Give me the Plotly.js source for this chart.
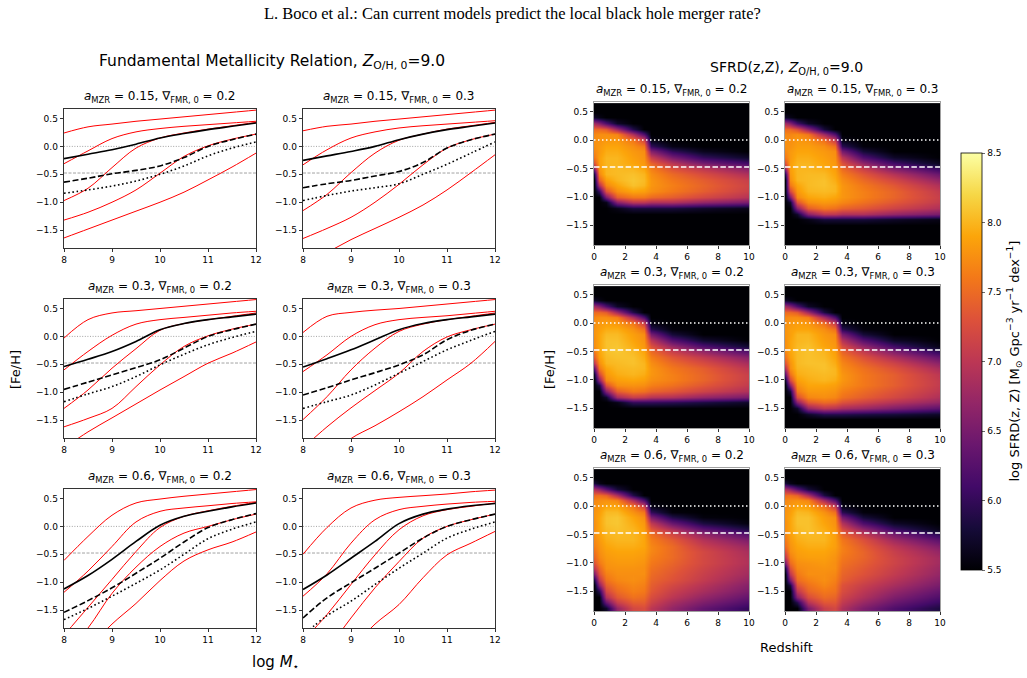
<!DOCTYPE html>
<html><head><meta charset="utf-8">
<script src="https://cdn.plot.ly/plotly-3.0.1.min.js"></script>
<style>html,body{margin:0;padding:0;background:#fff}#chart{width:1027px;height:678px}</style>
</head><body><div id="chart"></div><script>
// ---------------- DATA ----------------
const logMass = [8, 8.5, 9, 9.5, 10, 10.5, 11, 11.5, 12];
const aMZR = ['0.15', '0.15', '0.3', '0.3', '0.6', '0.6'];
const gradFMR = ['0.2', '0.3', '0.2', '0.3', '0.2', '0.3'];
const fehSolar = 0.0;
const fehThird = -0.477;

// red FMR curves (5 per panel), black solid / dashed / dotted
const red_a015_g02 = [
  [0.24, 0.35, 0.40, 0.45, 0.49, 0.53, 0.57, 0.61, 0.65],
  [-0.31, -0.08, 0.14, 0.26, 0.32, 0.36, 0.39, 0.42, 0.45],
  [-0.97, -0.75, -0.38, -0.03, 0.15, 0.24, 0.31, 0.37, 0.43],
  [-1.32, -1.18, -1.0, -0.78, -0.48, -0.18, 0.01, 0.13, 0.22],
  [-1.64, -1.48, -1.32, -1.16, -1.0, -0.82, -0.6, -0.37, -0.12]];
const solid_a015_g02 = [-0.22, -0.14, -0.06, 0.04, 0.15, 0.23, 0.30, 0.36, 0.42];
const dashed_a015_g02 = [-0.64, -0.57, -0.49, -0.43, -0.35, -0.2, 0.0, 0.12, 0.22];
const dotted_a015_g02 = [-0.84, -0.78, -0.71, -0.62, -0.50, -0.35, -0.17, -0.03, 0.08];

const red_a015_g03 = [
  [0.28, 0.36, 0.40, 0.45, 0.49, 0.53, 0.57, 0.61, 0.65],
  [-0.33, -0.06, 0.15, 0.26, 0.33, 0.37, 0.40, 0.43, 0.46],
  [-1.15, -0.86, -0.47, -0.12, 0.11, 0.22, 0.31, 0.37, 0.43],
  [-1.65, -1.47, -1.27, -1.0, -0.68, -0.33, -0.03, 0.12, 0.22],
  [-2.1, -1.9, -1.67, -1.47, -1.27, -1.05, -0.78, -0.47, -0.15]];
const solid_a015_g03 = [-0.25, -0.17, -0.09, 0.0, 0.12, 0.22, 0.30, 0.36, 0.42];
const dashed_a015_g03 = [-0.74, -0.67, -0.61, -0.53, -0.45, -0.29, -0.03, 0.12, 0.22];
const dotted_a015_g03 = [-0.97, -0.88, -0.80, -0.74, -0.67, -0.5, -0.32, -0.12, 0.08];

const red_a03_g02 = [
  [-0.03, 0.30, 0.42, 0.46, 0.5, 0.54, 0.58, 0.62, 0.66],
  [-0.60, -0.27, 0.02, 0.22, 0.30, 0.34, 0.38, 0.42, 0.45],
  [-1.29, -0.96, -0.57, -0.22, 0.11, 0.23, 0.30, 0.36, 0.42],
  [-1.62, -1.47, -1.29, -0.9, -0.51, -0.18, 0.01, 0.13, 0.22],
  [-2.0, -1.71, -1.46, -1.21, -0.96, -0.72, -0.48, -0.30, -0.10]];
const solid_a03_g02 = [-0.54, -0.41, -0.27, -0.09, 0.12, 0.23, 0.30, 0.35, 0.40];
const dashed_a03_g02 = [-0.95, -0.82, -0.69, -0.56, -0.42, -0.21, 0.0, 0.12, 0.22];
const dotted_a03_g02 = [-1.17, -1.03, -0.90, -0.72, -0.51, -0.32, -0.15, -0.02, 0.09];

const red_a03_g03 = [
  [0.07, 0.36, 0.43, 0.47, 0.5, 0.54, 0.58, 0.62, 0.66],
  [-0.63, -0.33, 0.0, 0.21, 0.30, 0.34, 0.37, 0.41, 0.45],
  [-1.49, -1.08, -0.60, -0.21, 0.09, 0.22, 0.30, 0.36, 0.42],
  [-2.0, -1.62, -1.28, -0.97, -0.66, -0.27, -0.01, 0.12, 0.22],
  [-2.5, -2.2, -1.83, -1.6, -1.35, -1.08, -0.78, -0.48, -0.09]];
const solid_a03_g03 = [-0.55, -0.40, -0.24, -0.06, 0.12, 0.23, 0.30, 0.35, 0.40];
const dashed_a03_g03 = [-1.05, -0.92, -0.78, -0.65, -0.51, -0.33, -0.06, 0.11, 0.22];
const dotted_a03_g03 = [-1.29, -1.17, -1.05, -0.87, -0.66, -0.45, -0.24, -0.07, 0.09];

const red_a06_g02 = [
  [-0.61, -0.18, 0.20, 0.42, 0.49, 0.54, 0.58, 0.62, 0.66],
  [-1.18, -0.80, -0.36, 0.08, 0.27, 0.33, 0.37, 0.41, 0.44],
  [-1.95, -1.45, -0.95, -0.45, -0.02, 0.18, 0.28, 0.36, 0.43],
  [-2.3, -1.82, -1.2, -0.73, -0.36, -0.12, 0.0, 0.12, 0.22],
  [-2.8, -2.2, -1.75, -1.38, -0.97, -0.62, -0.42, -0.28, -0.10]];
const solid_a06_g02 = [-1.12, -0.88, -0.59, -0.27, 0.02, 0.18, 0.27, 0.35, 0.42];
const dashed_a06_g02 = [-1.54, -1.33, -1.10, -0.84, -0.57, -0.28, -0.02, 0.12, 0.23];
const dotted_a06_g02 = [-1.67, -1.47, -1.25, -1.02, -0.78, -0.5, -0.22, -0.05, 0.08];

const red_a06_g03 = [
  [-0.5, -0.02, 0.33, 0.47, 0.52, 0.55, 0.58, 0.62, 0.65],
  [-1.25, -0.85, -0.30, 0.12, 0.30, 0.36, 0.40, 0.43, 0.45],
  [-2.05, -1.58, -1.04, -0.51, -0.06, 0.19, 0.30, 0.36, 0.42],
  [-2.6, -2.2, -1.64, -1.10, -0.63, -0.21, 0.0, 0.12, 0.22],
  [-3.2, -2.7, -2.2, -1.75, -1.4, -0.92, -0.51, -0.30, -0.09]];
const solid_a06_g03 = [-1.13, -0.87, -0.57, -0.27, 0.05, 0.22, 0.31, 0.37, 0.41];
const dashed_a06_g03 = [-1.64, -1.28, -1.01, -0.75, -0.48, -0.21, 0.0, 0.12, 0.22];
const dotted_a06_g03 = [-1.95, -1.6, -1.34, -1.04, -0.75, -0.48, -0.21, -0.05, 0.08];

// SFRD(z, Z) maps: one column (25 [Fe/H] values, -1.8 .. 0.6) per redshift
const redshift = [0, 0.3, 0.8, 1.5, 2.5, 3.2, 3.7, 5, 7, 10];
const feh = [-1.8,-1.7,-1.6,-1.5,-1.4,-1.3,-1.2,-1.1,-1.0,-0.9,-0.8,-0.7,-0.6,-0.5,-0.4,-0.3,-0.2,-0.1,0.0,0.1,0.2,0.3,0.4,0.5,0.6];

const sfrd_a015_g02 = [
  [5.5,5.5,5.5,5.5,5.5,5.5,5.5,5.5,5.5,5.5,5.5,5.5,5.8,6.6,7.3,7.6,7.7,7.75,7.75,7.7,7.5,6.8,5.7,5.5,5.5],
  [5.5,5.5,5.5,5.5,5.5,5.5,5.5,5.5,5.5,6.0,6.9,7.4,7.7,7.82,7.86,7.86,7.82,7.82,7.78,7.75,7.5,6.6,5.6,5.5,5.5],
  [5.5,5.5,5.5,5.5,5.5,5.5,5.5,5.6,6.5,7.3,7.7,7.86,8.0,8.0,8.0,8.0,7.95,7.9,7.82,7.75,7.4,6.2,5.5,5.5,5.5],
  [5.5,5.5,5.5,5.5,5.5,5.5,5.6,6.6,7.4,7.75,7.9,8.0,8.03,8.03,8.0,8.0,7.95,7.9,7.82,7.7,6.8,5.7,5.5,5.5,5.5],
  [5.5,5.5,5.5,5.5,5.5,5.5,5.8,7.0,7.6,7.9,8.07,8.1,8.07,8.0,7.9,7.86,7.82,7.75,7.6,6.9,5.9,5.5,5.5,5.5,5.5],
  [5.5,5.5,5.5,5.5,5.5,5.5,5.8,7.0,7.6,7.86,8.0,8.03,8.0,7.9,7.82,7.78,7.75,7.6,7.2,6.2,5.5,5.5,5.5,5.5,5.5],
  [5.5,5.5,5.5,5.5,5.5,5.5,5.8,6.9,7.5,7.75,7.8,7.8,7.75,7.65,7.45,7.1,6.6,6.0,5.6,5.5,5.5,5.5,5.5,5.5,5.5],
  [5.5,5.5,5.5,5.5,5.5,5.5,5.8,6.9,7.4,7.6,7.65,7.6,7.5,7.3,7.0,6.5,6.0,5.6,5.5,5.5,5.5,5.5,5.5,5.5,5.5],
  [5.5,5.5,5.5,5.5,5.5,5.5,5.7,6.7,7.2,7.4,7.45,7.4,7.25,7.0,6.5,6.0,5.65,5.5,5.5,5.5,5.5,5.5,5.5,5.5,5.5],
  [5.5,5.5,5.5,5.5,5.5,5.5,5.6,6.5,6.95,7.1,7.15,7.1,6.9,6.6,6.1,5.7,5.5,5.5,5.5,5.5,5.5,5.5,5.5,5.5,5.5]];

const sfrd_a015_g03 = [
  [5.5,5.5,5.5,5.5,5.5,5.5,5.5,5.5,5.5,5.5,5.5,5.5,5.9,6.7,7.3,7.6,7.7,7.75,7.75,7.7,7.5,6.8,5.7,5.5,5.5],
  [5.5,5.5,5.5,5.5,5.5,5.5,5.5,5.7,6.5,7.2,7.6,7.75,7.82,7.86,7.86,7.82,7.82,7.78,7.75,7.7,7.5,6.6,5.6,5.5,5.5],
  [5.5,5.5,5.5,5.5,5.5,5.7,6.6,7.3,7.7,7.82,7.9,8.0,8.0,8.0,8.0,7.95,7.9,7.86,7.82,7.75,7.3,6.1,5.5,5.5,5.5],
  [5.5,5.5,5.5,5.5,5.6,6.6,7.4,7.75,7.9,8.0,8.03,8.03,8.03,8.0,8.0,7.95,7.9,7.86,7.78,7.6,6.7,5.7,5.5,5.5,5.5],
  [5.5,5.5,5.5,5.5,5.8,7.0,7.6,7.82,7.95,8.03,8.07,8.07,8.03,7.95,7.9,7.86,7.82,7.75,7.55,6.8,5.8,5.5,5.5,5.5,5.5],
  [5.5,5.5,5.5,5.5,5.8,7.0,7.55,7.78,7.9,8.0,8.0,7.95,7.9,7.86,7.82,7.78,7.75,7.55,7.1,6.2,5.5,5.5,5.5,5.5,5.5],
  [5.5,5.5,5.5,5.5,5.8,6.9,7.45,7.7,7.8,7.8,7.8,7.75,7.65,7.5,7.3,7.0,6.5,5.95,5.6,5.5,5.5,5.5,5.5,5.5,5.5],
  [5.5,5.5,5.5,5.5,5.8,6.9,7.35,7.55,7.65,7.65,7.6,7.5,7.35,7.1,6.7,6.2,5.8,5.55,5.5,5.5,5.5,5.5,5.5,5.5,5.5],
  [5.5,5.5,5.5,5.5,5.7,6.7,7.15,7.35,7.45,7.45,7.35,7.2,6.95,6.55,6.1,5.7,5.5,5.5,5.5,5.5,5.5,5.5,5.5,5.5,5.5],
  [5.5,5.5,5.5,5.5,5.6,6.5,6.9,7.05,7.1,7.05,6.9,6.7,6.4,6.0,5.65,5.5,5.5,5.5,5.5,5.5,5.5,5.5,5.5,5.5,5.5]];

const sfrd_a03_g02 = [
  [5.5,5.5,5.5,5.5,5.5,5.5,5.5,5.5,5.5,5.7,6.3,7.0,7.4,7.6,7.75,7.75,7.78,7.78,7.75,7.7,7.5,6.8,5.7,5.5,5.5],
  [5.5,5.5,5.5,5.5,5.5,5.5,5.5,5.8,6.6,7.2,7.6,7.75,7.86,7.9,7.9,7.9,7.9,7.86,7.82,7.75,7.5,6.6,5.6,5.5,5.5],
  [5.5,5.5,5.5,5.5,5.5,5.7,6.6,7.3,7.7,7.82,7.9,8.0,8.03,8.07,8.07,8.07,8.03,7.95,7.86,7.75,7.4,6.2,5.5,5.5,5.5],
  [5.5,5.5,5.5,5.5,5.6,6.8,7.4,7.75,7.86,7.95,8.0,8.03,8.07,8.1,8.1,8.07,8.03,7.95,7.82,7.65,6.8,5.7,5.5,5.5,5.5],
  [5.5,5.5,5.5,5.5,6.0,7.1,7.6,7.78,7.9,8.0,8.03,8.07,8.07,8.03,7.95,7.9,7.86,7.78,7.6,6.9,5.9,5.5,5.5,5.5,5.5],
  [5.5,5.5,5.5,5.5,6.0,7.05,7.55,7.75,7.86,7.95,8.0,8.0,7.95,7.9,7.82,7.78,7.75,7.55,7.15,6.2,5.5,5.5,5.5,5.5,5.5],
  [5.5,5.5,5.5,5.5,6.0,6.95,7.45,7.65,7.75,7.8,7.8,7.75,7.65,7.5,7.3,7.0,6.5,5.95,5.6,5.5,5.5,5.5,5.5,5.5,5.5],
  [5.5,5.5,5.5,5.5,5.95,6.9,7.35,7.55,7.65,7.65,7.6,7.5,7.35,7.1,6.75,6.25,5.8,5.55,5.5,5.5,5.5,5.5,5.5,5.5,5.5],
  [5.5,5.5,5.5,5.5,5.85,6.7,7.15,7.35,7.45,7.45,7.4,7.25,7.05,6.7,6.2,5.75,5.5,5.5,5.5,5.5,5.5,5.5,5.5,5.5,5.5],
  [5.5,5.5,5.5,5.5,5.7,6.5,6.9,7.05,7.1,7.1,7.0,6.85,6.6,6.2,5.75,5.5,5.5,5.5,5.5,5.5,5.5,5.5,5.5,5.5,5.5]];

const sfrd_a03_g03 = [
  [5.5,5.5,5.5,5.5,5.5,5.5,5.5,5.5,5.7,6.3,6.9,7.3,7.55,7.7,7.75,7.75,7.78,7.78,7.75,7.7,7.5,6.8,5.7,5.5,5.5],
  [5.5,5.5,5.5,5.5,5.5,5.5,5.8,6.6,7.2,7.55,7.75,7.78,7.86,7.9,7.9,7.9,7.86,7.86,7.82,7.75,7.5,6.6,5.6,5.5,5.5],
  [5.5,5.5,5.5,5.7,6.6,7.25,7.6,7.75,7.86,7.95,8.0,8.03,8.03,8.03,8.03,8.0,8.0,7.9,7.86,7.75,7.4,6.2,5.5,5.5,5.5],
  [5.5,5.5,5.7,6.7,7.35,7.7,7.82,7.9,7.95,8.0,8.03,8.07,8.07,8.07,8.07,8.03,8.0,7.9,7.82,7.65,6.8,5.7,5.5,5.5,5.5],
  [5.5,5.5,5.9,7.0,7.5,7.75,7.82,7.9,8.0,8.03,8.07,8.07,8.03,8.0,7.9,7.86,7.82,7.75,7.55,6.85,5.85,5.5,5.5,5.5,5.5],
  [5.5,5.5,5.9,6.95,7.45,7.7,7.78,7.86,7.95,8.0,8.0,7.95,7.9,7.86,7.82,7.78,7.75,7.55,7.1,6.2,5.5,5.5,5.5,5.5,5.5],
  [5.5,5.5,5.9,6.85,7.3,7.55,7.65,7.75,7.8,7.8,7.75,7.7,7.6,7.45,7.25,6.95,6.5,5.95,5.6,5.5,5.5,5.5,5.5,5.5,5.5],
  [5.5,5.5,5.85,6.75,7.15,7.4,7.5,7.6,7.6,7.6,7.55,7.45,7.3,7.05,6.7,6.25,5.8,5.55,5.5,5.5,5.5,5.5,5.5,5.5,5.5],
  [5.5,5.5,5.8,6.55,6.95,7.2,7.3,7.4,7.4,7.4,7.3,7.15,6.9,6.55,6.1,5.7,5.5,5.5,5.5,5.5,5.5,5.5,5.5,5.5,5.5],
  [5.5,5.5,5.7,6.3,6.7,6.9,7.0,7.05,7.05,7.0,6.85,6.65,6.35,5.95,5.6,5.5,5.5,5.5,5.5,5.5,5.5,5.5,5.5,5.5,5.5]];

const sfrd_a06_g02 = [
  [5.5,5.5,5.5,5.5,5.5,5.8,6.5,7.0,7.3,7.45,7.55,7.65,7.7,7.75,7.75,7.75,7.78,7.78,7.75,7.7,7.5,6.9,5.8,5.5,5.5],
  [5.5,5.5,5.5,5.9,6.6,7.0,7.3,7.45,7.6,7.7,7.75,7.78,7.82,7.86,7.9,7.9,7.9,7.86,7.82,7.75,7.55,6.7,5.6,5.5,5.5],
  [5.7,6.4,6.9,7.2,7.4,7.55,7.65,7.75,7.78,7.82,7.86,7.9,7.95,8.0,8.03,8.07,8.07,8.03,7.9,7.78,7.45,6.3,5.5,5.5,5.5],
  [6.7,7.1,7.35,7.5,7.6,7.7,7.75,7.78,7.82,7.86,7.9,7.95,8.0,8.03,8.07,8.1,8.1,8.03,7.9,7.7,6.9,5.8,5.5,5.5,5.5],
  [7.2,7.4,7.55,7.65,7.7,7.75,7.75,7.78,7.82,7.86,7.9,7.95,8.0,8.0,8.0,7.95,7.9,7.78,7.6,6.9,5.9,5.5,5.5,5.5,5.5],
  [7.25,7.4,7.5,7.6,7.65,7.7,7.75,7.75,7.78,7.82,7.86,7.9,7.9,7.9,7.86,7.82,7.75,7.6,7.15,6.2,5.5,5.5,5.5,5.5,5.5],
  [7.0,7.15,7.25,7.35,7.4,7.45,7.5,7.55,7.6,7.65,7.7,7.7,7.65,7.55,7.35,7.05,6.55,6.0,5.6,5.5,5.5,5.5,5.5,5.5,5.5],
  [6.7,6.85,7.0,7.1,7.2,7.3,7.35,7.4,7.45,7.5,7.5,7.5,7.4,7.2,6.9,6.4,5.9,5.55,5.5,5.5,5.5,5.5,5.5,5.5,5.5],
  [6.35,6.55,6.7,6.85,6.95,7.05,7.1,7.15,7.2,7.2,7.2,7.1,6.95,6.7,6.3,5.85,5.55,5.5,5.5,5.5,5.5,5.5,5.5,5.5,5.5],
  [6.0,6.2,6.35,6.5,6.6,6.7,6.8,6.85,6.9,6.9,6.85,6.75,6.55,6.25,5.85,5.55,5.5,5.5,5.5,5.5,5.5,5.5,5.5,5.5,5.5]];

const sfrd_a06_g03 = [
  [5.5,5.5,5.5,5.5,5.5,5.5,5.5,5.8,6.5,7.0,7.3,7.5,7.6,7.7,7.75,7.75,7.78,7.78,7.75,7.7,7.5,6.9,5.8,5.5,5.5],
  [5.5,5.5,5.5,5.5,5.8,6.5,7.0,7.3,7.5,7.65,7.75,7.78,7.82,7.86,7.9,7.9,7.9,7.86,7.82,7.75,7.55,6.7,5.6,5.5,5.5],
  [5.5,5.9,6.6,7.0,7.3,7.5,7.6,7.7,7.75,7.82,7.86,7.9,7.95,8.0,8.03,8.07,8.07,8.03,7.9,7.78,7.45,6.3,5.5,5.5,5.5],
  [6.5,6.95,7.25,7.45,7.55,7.65,7.75,7.75,7.78,7.86,7.9,7.95,8.0,8.03,8.07,8.07,8.07,8.0,7.86,7.7,6.9,5.8,5.5,5.5,5.5],
  [7.1,7.35,7.5,7.6,7.7,7.75,7.75,7.78,7.82,7.86,7.9,7.95,8.0,8.0,7.95,7.9,7.86,7.78,7.55,6.85,5.85,5.5,5.5,5.5,5.5],
  [7.2,7.35,7.45,7.55,7.6,7.65,7.7,7.75,7.75,7.78,7.82,7.86,7.86,7.86,7.82,7.78,7.75,7.55,7.1,6.2,5.5,5.5,5.5,5.5,5.5],
  [6.9,7.05,7.15,7.25,7.3,7.4,7.45,7.5,7.55,7.6,7.65,7.65,7.6,7.45,7.25,6.95,6.5,5.95,5.6,5.5,5.5,5.5,5.5,5.5,5.5],
  [6.55,6.75,6.9,7.0,7.1,7.2,7.3,7.35,7.4,7.45,7.45,7.4,7.3,7.05,6.7,6.2,5.8,5.55,5.5,5.5,5.5,5.5,5.5,5.5,5.5],
  [6.2,6.4,6.55,6.7,6.85,6.95,7.05,7.1,7.15,7.15,7.1,7.0,6.8,6.5,6.05,5.7,5.5,5.5,5.5,5.5,5.5,5.5,5.5,5.5,5.5],
  [5.85,6.05,6.2,6.35,6.5,6.6,6.7,6.75,6.8,6.8,6.7,6.55,6.3,5.95,5.6,5.5,5.5,5.5,5.5,5.5,5.5,5.5,5.5,5.5,5.5]];

const colorTicks = [5.5, 6.0, 6.5, 7.0, 7.5, 8.0, 8.5];

// ---------------- LAYOUT HELPERS ----------------
const W = 1027, H = 678;
const fx = p => p / W, fy = p => 1 - p / H;
const FONT = 'DejaVu Sans';
const lineCols = [[64, 256], [303, 495]];
const lineRows = [[109, 248], [299, 438], [489, 628]];
const heatCols = [[594, 749], [785, 940]];
const heatRows = [[102, 245], [285, 428], [468, 611]];

const inferno = [
  [0.0, '#000004'], [0.1, '#160b39'], [0.2, '#420a68'], [0.3, '#6a176e'],
  [0.4, '#932667'], [0.5, '#bc3754'], [0.6, '#dd513a'], [0.7, '#f37819'],
  [0.8, '#fca50a'], [0.9, '#f6d746'], [1.0, '#fcffa4']];

const fmrPanels = [
  [red_a015_g02, solid_a015_g02, dashed_a015_g02, dotted_a015_g02],
  [red_a015_g03, solid_a015_g03, dashed_a015_g03, dotted_a015_g03],
  [red_a03_g02, solid_a03_g02, dashed_a03_g02, dotted_a03_g02],
  [red_a03_g03, solid_a03_g03, dashed_a03_g03, dotted_a03_g03],
  [red_a06_g02, solid_a06_g02, dashed_a06_g02, dotted_a06_g02],
  [red_a06_g03, solid_a06_g03, dashed_a06_g03, dotted_a06_g03]];
const sfrdPanels = [sfrd_a015_g02, sfrd_a015_g03, sfrd_a03_g02, sfrd_a03_g03, sfrd_a06_g02, sfrd_a06_g03];

const traces = [];
const layout = {
  width: W, height: H, margin: {l: 0, r: 0, t: 0, b: 0},
  paper_bgcolor: '#fff', plot_bgcolor: '#fff', showlegend: false,
  font: {family: FONT, color: '#000'}, annotations: []
};

function axisCommon(extra) {
  return Object.assign({
    ticks: 'outside', ticklen: 3.5, tickwidth: 0.8, tickcolor: '#000',
    showline: true, linecolor: '#000', linewidth: 0.8, mirror: true,
    showgrid: false, zeroline: false, fixedrange: true,
    tickfont: {family: FONT, size: 9, color: '#000'}
  }, extra);
}
const ref = (kx, ky) => ({xaxis: 'x' + kx, yaxis: 'y' + ky});

function subTitle(i, xc, ytop) {
  layout.annotations.push({
    xref: 'paper', yref: 'paper', x: fx(xc), y: fy(ytop - 2), xanchor: 'center', yanchor: 'bottom',
    showarrow: false, font: {family: FONT, size: 12, color: '#000'},
    text: '<i>a</i><sub>MZR</sub> = ' + aMZR[i] + ', ∇<sub>FMR, 0</sub> = ' + gradFMR[i]
  });
}

// left: FMR line panels
fmrPanels.forEach((p, i) => {
  const k = i + 1, col = i % 2, row = Math.floor(i / 2);
  const xs = lineCols[col], ys = lineRows[row];
  const axn = k === 1 ? '' : String(k);
  layout['xaxis' + axn] = axisCommon({domain: [fx(xs[0]), fx(xs[1])], range: [8, 12], anchor: 'y' + axn,
    tickvals: [8, 9, 10, 11, 12]});
  layout['yaxis' + axn] = axisCommon({domain: [fy(ys[1]), fy(ys[0])], range: [-1.82, 0.67], anchor: 'x' + axn,
    tickvals: [-1.5, -1.0, -0.5, 0.0, 0.5], tickformat: '.1f'});
  const r = ref(axn, axn);
  traces.push(Object.assign({type: 'scatter', mode: 'lines', x: [8, 12], y: [fehSolar, fehSolar],
    line: {color: '#8c8c8c', width: 0.8, dash: '1px,1.6px'}, hoverinfo: 'skip'}, r));
  traces.push(Object.assign({type: 'scatter', mode: 'lines', x: [8, 12], y: [fehThird, fehThird],
    line: {color: '#8c8c8c', width: 0.8, dash: '3px,1.5px'}, hoverinfo: 'skip'}, r));
  p[0].forEach(rv => traces.push(Object.assign({type: 'scatter', mode: 'lines', x: logMass, y: rv,
    line: {color: '#ff0000', width: 1, shape: 'spline', smoothing: 1}}, r)));
  traces.push(Object.assign({type: 'scatter', mode: 'lines', x: logMass, y: p[1],
    line: {color: '#000', width: 1.6, shape: 'spline', smoothing: 1}}, r));
  traces.push(Object.assign({type: 'scatter', mode: 'lines', x: logMass, y: p[2],
    line: {color: '#000', width: 1.6, shape: 'spline', smoothing: 1, dash: '6px,2.6px'}}, r));
  traces.push(Object.assign({type: 'scatter', mode: 'lines', x: logMass, y: p[3],
    line: {color: '#000', width: 1.6, shape: 'spline', smoothing: 1, dash: '1.6px,2.6px'}}, r));
  subTitle(i, (xs[0] + xs[1]) / 2, ys[0]);
});

// right: SFRD heatmaps
sfrdPanels.forEach((cols, i) => {
  const k = i + 7, col = i % 2, row = Math.floor(i / 2);
  const xs = heatCols[col], ys = heatRows[row];
  const axn = String(k);
  layout['xaxis' + axn] = axisCommon({domain: [fx(xs[0]), fx(xs[1])], range: [0, 10], anchor: 'y' + axn,
    tickvals: [0, 2, 4, 6, 8, 10]});
  layout['yaxis' + axn] = axisCommon({domain: [fy(ys[1]), fy(ys[0])], range: [-1.85, 0.67], anchor: 'x' + axn,
    tickvals: [-1.5, -1.0, -0.5, 0.0, 0.5], tickformat: '.1f'});
  layout['xaxis' + axn].linecolor = '#888';
  layout['yaxis' + axn].linecolor = '#888';
  const z = feh.map((_, j) => cols.map(c => c[j]));
  const r = ref(axn, axn);
  const hm = Object.assign({type: 'heatmap', x: redshift, y: feh, z: z, zsmooth: 'best',
    colorscale: inferno, zmin: 5.5, zmax: 8.5, showscale: i === 0}, r);
  if (i === 0) {
    hm.colorbar = {x: fx(961), xanchor: 'left', y: fy(361.5), yanchor: 'middle',
      thickness: 21, thicknessmode: 'pixels', len: 417 / H, lenmode: 'fraction',
      xpad: 0, ypad: 0, outlinewidth: 0.8, outlinecolor: '#000',
      tickvals: colorTicks, tickformat: '.1f', ticks: 'outside', ticklen: 3.5, tickwidth: 0.8,
      tickfont: {family: FONT, size: 9, color: '#000'}};
  }
  traces.push(hm);
  traces.push(Object.assign({type: 'scatter', mode: 'lines', x: [0, 10], y: [fehSolar, fehSolar],
    line: {color: '#ffffff', width: 1.5, dash: '1.5px,2.5px'}, hoverinfo: 'skip'}, r));
  traces.push(Object.assign({type: 'scatter', mode: 'lines', x: [0, 10], y: [fehThird, fehThird],
    line: {color: '#ffffff', width: 1.5, dash: '5.5px,2.4px'}, hoverinfo: 'skip'}, r));
  subTitle(i, (xs[0] + xs[1]) / 2, ys[0]);
});

function label(text, x, y, size, extra) {
  layout.annotations.push(Object.assign({xref: 'paper', yref: 'paper', x: fx(x), y: fy(y),
    xanchor: 'center', yanchor: 'middle', showarrow: false, text: text,
    font: {family: FONT, size: size, color: '#000'}}, extra || {}));
}
label('L. Boco et al.: Can current models predict the local black hole merger rate?', 512, 14, 16.5,
  {font: {family: 'Liberation Serif', size: 16.5, color: '#000'}});
label('Fundamental Metallicity Relation, <i>Z</i><sub>O/H, 0</sub>=9.0', 272, 62, 15.5);
label('SFRD(z,Z), <i>Z</i><sub>O/H, 0</sub>=9.0', 786, 68, 14);
label('[Fe/H]', 15, 370, 13, {textangle: -90});
label('[Fe/H]', 549, 370, 13, {textangle: -90});
label('log <i>M</i><sub>⋆</sub>', 275, 662, 15);
label('Redshift', 786, 647, 13);
label('log SFRD(z, Z) [M<sub>⊙</sub> Gpc<sup>−3</sup> yr<sup>−1</sup> dex<sup>−1</sup>]', 1014, 361.5, 13, {textangle: -90});

Plotly.newPlot('chart', traces, layout, {staticPlot: true, displayModeBar: false});
</script></body></html>
